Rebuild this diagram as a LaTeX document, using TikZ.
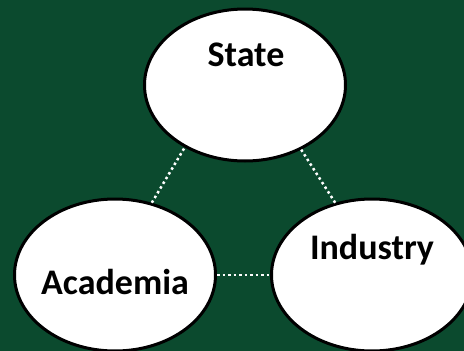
\documentclass[tikz,border=0pt]{standalone}
\usepackage{fontspec}
\setmainfont{Carlito}
\usetikzlibrary{shapes.geometric}
\definecolor{bggreen}{HTML}{0B4A2E}
\tikzset{
  blob/.style={ellipse, draw=black, fill=white, line width=3pt, inner sep=0pt,
    minimum width=201pt, minimum height=152pt},
  lbl/.style={font=\fontsize{36}{40}\selectfont\bfseries, text=black, inner sep=0pt},
  link/.style={draw=white, line width=2.5pt, dash pattern=on 2.5pt off 3pt}
}
\begin{document}
\begin{tikzpicture}[x=1pt,y=-1pt]
\useasboundingbox (0,0) rectangle (464,351);
\fill[bggreen] (0,0) rectangle (464,351);
\node[blob] (state) at (245,85) {};
\node[blob] (aca) at (115,275) {};
\node[blob] (ind) at (372,275) {};
\node[lbl] (tstate) at (246,55) {State};
\node[lbl] (taca) at (115,282) {Academia};
\node[lbl] (tind) at (372,250) {Industry};
\draw[link] (aca.63) -- (state.226);
\draw[link] (ind.117) -- (state.311);
\draw[link] (aca.east) -- (ind.west);
\end{tikzpicture}
\end{document}
